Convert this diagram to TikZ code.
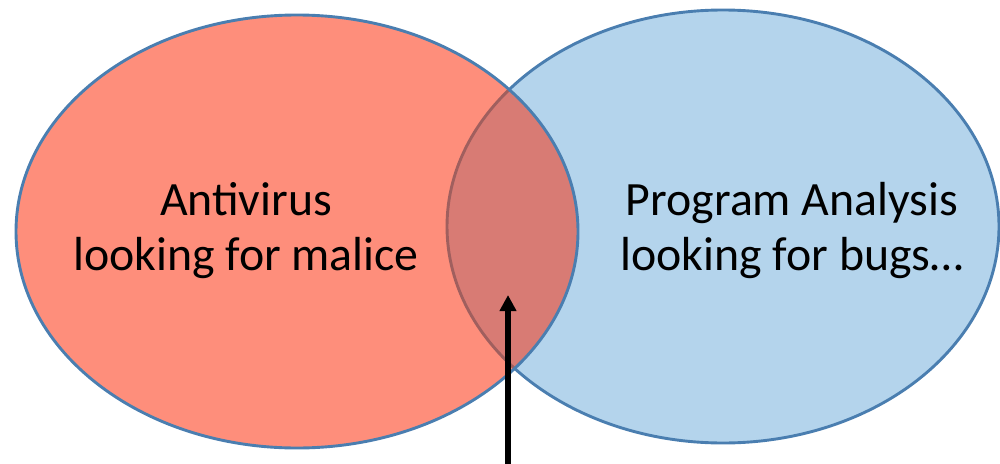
\documentclass[tikz,border=0pt]{standalone}
\usepackage{fontspec}
\setmainfont{Carlito}
\usetikzlibrary{arrows.meta}
\definecolor{redfill}{HTML}{FE8E7B}
\definecolor{bluefill}{HTML}{B4D4EC}
\definecolor{mixfill}{HTML}{D87B74}
\definecolor{edgeblue}{HTML}{4A7EB0}
\definecolor{mixedge}{HTML}{A05F5E}
\begin{document}
\begin{tikzpicture}[x=1pt,y=-1pt,
  setedge/.style={line width=2.9pt},
  setlabel/.style={font=\fontsize{47.8}{56}\selectfont,anchor=base,inner sep=0pt},
  pointer/.style={line width=5.4pt,-{Triangle[width=16pt,length=16pt]}}]
\useasboundingbox (0,0) rectangle (1000,463);
\def\leftell{(297,231.5) ellipse [x radius=281pt, y radius=216.5pt]}
\def\rightell{(723,226.5) ellipse [x radius=276pt, y radius=216.5pt]}
% right set
\fill[bluefill] \rightell;
\draw[setedge,edgeblue] \rightell;
% left set
\fill[redfill] \leftell;
% overlap
\begin{scope}
  \clip \leftell;
  \fill[mixfill] \rightell;
  \draw[setedge,mixedge] \rightell;
\end{scope}
\draw[setedge,edgeblue] \leftell;
% labels
\node[setlabel] (av1) at (246,215) {Antivirus};
\node[setlabel] (av2) at (246,270) {looking for malice};
\node[setlabel] (pa1) at (792,215) {Program Analysis};
\node[setlabel] (pa2) at (792,270) {looking for bugs…};
% arrow
\coordinate (tail) at (508,470);
\coordinate (tip) at (508,295);
\draw[pointer] (tail) -- (tip);
\end{tikzpicture}
\end{document}
